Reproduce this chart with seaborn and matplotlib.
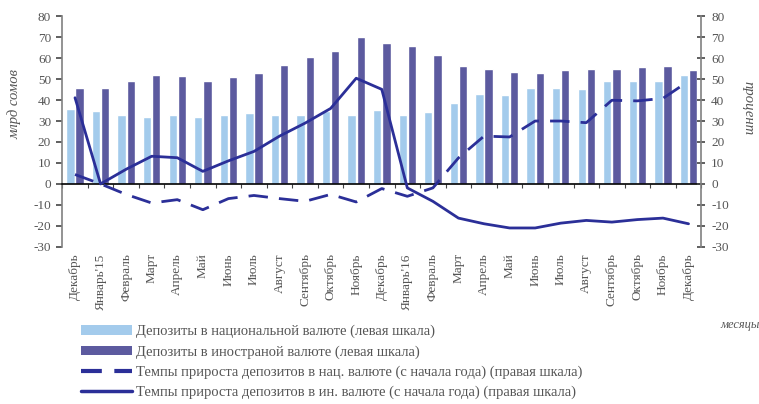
import numpy as np
import pandas as pd
import matplotlib
matplotlib.use("Agg")
import matplotlib.pyplot as plt
import seaborn as sns
from matplotlib.patches import Patch
from matplotlib.lines import Line2D

# month labels (Dec 2014 .. Dec 2016)
months = ["Декабрь", "Январь'15", "Февраль", "Март", "Апрель", "Май", "Июнь",
          "Июль", "Август", "Сентябрь", "Октябрь", "Ноябрь", "Декабрь",
          "Январь'16", "Февраль", "Март", "Апрель", "Май", "Июнь", "Июль",
          "Август", "Сентябрь", "Октябрь", "Ноябрь", "Декабрь"]

# deposits, bln som (left scale)
dep_national = [35.6, 34.8, 32.9, 32.1, 32.7, 31.7, 32.9, 33.6, 33.0, 32.7,
                34.8, 32.7, 35.2, 32.7, 34.4, 38.8, 43.1, 42.4, 45.9, 45.9,
                45.1, 49.1, 49.1, 49.1, 52.0]
dep_foreign = [45.8, 45.8, 49.0, 52.0, 51.5, 49.1, 50.9, 53.1, 56.8, 60.3,
               63.2, 70.2, 67.1, 65.9, 61.4, 56.0, 54.7, 53.4, 53.0, 54.4,
               54.7, 54.7, 55.7, 56.0, 54.4]

# growth rates since start of year, % (right scale)
growth_national = [4.5, 0.0, -5.0, -9.1, -7.5, -12.3, -7.0, -5.5, -7.0, -8.3,
                   -5.0, -8.6, -2.2, -5.9, -1.9, 12.4, 22.8, 22.4, 30.0, 30.0,
                   29.2, 39.9, 39.6, 40.8, 49.0]
growth_foreign = [41.1, 0.0, 7.0, 13.2, 12.5, 6.0, 11.0, 15.5, 22.8, 29.0,
                  36.0, 50.4, 45.1, -1.9, -8.3, -16.3, -19.0, -21.0, -21.0, -18.7,
                  -17.4, -18.2, -17.0, -16.3, -19.0]

c_light = "#a3cbec"
c_dark = "#5c5a9f"
c_line = "#2b2f98"
c_axis = "#808080"
c_text = "#555555"


def main():
    sns.set_theme(style="white")
    plt.rcParams["font.family"] = ["Liberation Serif", "DejaVu Serif"]
    plt.rcParams["axes.unicode_minus"] = False

    n = len(months)
    df = pd.DataFrame({
        "pos": list(range(n)) * 2,
        "value": dep_national + dep_foreign,
        "series": ["nat"] * n + ["for"] * n,
    })

    fig = plt.figure(figsize=(7.59, 4.04), dpi=100)
    ax = fig.add_axes([0.082, 0.389, 0.842, 0.571])

    sns.barplot(data=df, x="pos", y="value", hue="series", order=list(range(n)),
                hue_order=["nat", "for"], palette=[c_light, c_dark],
                width=0.72, gap=0.1, saturation=1, legend=False, ax=ax)

    ax2 = ax.twinx()
    pos = np.arange(n)
    sns.lineplot(x=pos, y=growth_national, ax=ax2, color=c_line, lw=2.0)
    ax2.lines[-1].set_dashes((7, 4))
    sns.lineplot(x=pos, y=growth_foreign, ax=ax2, color=c_line, lw=2.0)

    for a in (ax, ax2):
        a.set_ylim(-30, 80)
        a.set_yticks(range(-30, 81, 10))
        a.set_xlim(-0.5, n - 0.5)
        for s in a.spines.values():
            s.set_visible(False)
        a.grid(False)

    ax.spines["left"].set_visible(True)
    ax.spines["left"].set_color(c_axis)
    ax.spines["left"].set_linewidth(1.2)
    ax2.spines["right"].set_visible(True)
    ax2.spines["right"].set_color(c_axis)
    ax2.spines["right"].set_linewidth(1.2)
    ax.spines["bottom"].set_visible(True)
    ax.spines["bottom"].set_position(("data", 0))
    ax.spines["bottom"].set_color("black")
    ax.spines["bottom"].set_linewidth(1.2)

    ax.tick_params(axis="y", left=True, direction="out", length=4, width=1.2,
                   color="#444444", labelsize=9.5, labelcolor=c_text, pad=4)
    ax2.tick_params(axis="y", right=True, direction="inout", length=6, width=1.2,
                    color="#444444", labelsize=9.5, labelcolor=c_text, pad=4)
    ax2.set_xticks([])

    ax.set_xticks(range(n))
    ax.set_xticklabels(months, rotation=90, fontsize=9.5, color=c_text)
    ax.set_xticks(np.arange(-0.5, n, 1), minor=True)
    ax.tick_params(axis="x", which="major", length=0, pad=50)
    ax.tick_params(axis="x", which="minor", bottom=True, length=3, width=0.8,
                   color="#444444", direction="out")

    ax.set_xlabel("")
    ax.set_ylabel("млрд сомов", fontsize=10.5, style="italic", color=c_text)
    ax2.set_ylabel("процент", fontsize=10.5, style="italic", color=c_text,
                   rotation=270)
    ax.yaxis.set_label_coords(-0.064, 0.62)
    ax2.yaxis.set_label_coords(1.083, 0.6)

    fig.text(0.975, 0.195, "месяцы", fontsize=9, style="italic", color=c_text,
             ha="center", va="center")

    handles = [
        Patch(facecolor=c_light, edgecolor="none"),
        Patch(facecolor=c_dark, edgecolor="none"),
        Line2D([], [], color=c_line, lw=3, dashes=(5, 3)),
        Line2D([], [], color=c_line, lw=2.5),
    ]
    labels = [
        "Депозиты в национальной валюте (левая шкала)",
        "Депозиты в иностраной валюте (левая шкала)",
        "Темпы прироста депозитов в нац. валюте (с начала года) (правая шкала)",
        "Темпы прироста депозитов в ин. валюте (с начала года) (правая шкала)",
    ]
    fig.legend(handles, labels, loc="upper left", bbox_to_anchor=(0.097, 0.214),
               frameon=False, fontsize=10.5, handlelength=3.5, handleheight=0.6,
               handletextpad=0.3, labelspacing=0.47, borderpad=0,
               labelcolor=c_text)

    fig.savefig("out.png", dpi=100)


if __name__ == "__main__":
    main()
